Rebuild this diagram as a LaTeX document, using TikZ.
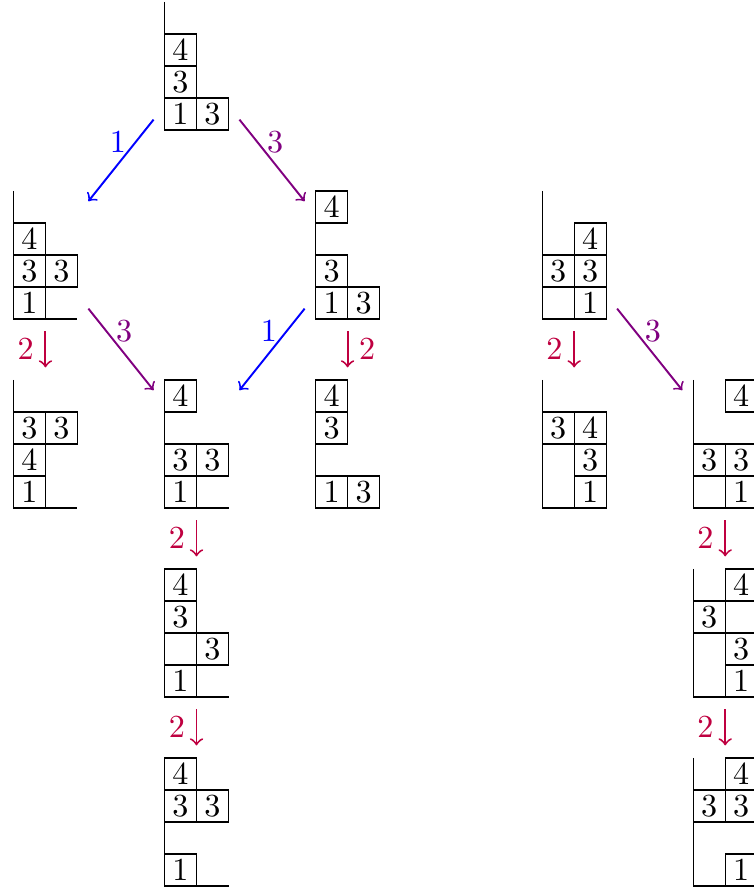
\documentclass[tikz,border=0pt]{standalone}
\usepackage{amsmath,amssymb}
\usepackage{tikz}
\usetikzlibrary{arrows,positioning}

\begin{document}
\begin{tikzpicture}[x=0.35cm,y=0.35cm,auto,node distance=2.067cm and 1.652cm,on grid,
  tab/.style={inner sep=0pt,outer sep=0pt,minimum width=0.7cm+6.8pt,minimum height=1.4cm+7.8pt},
  cell/.style={draw,inner sep=0pt,minimum size=0.35cm},
  lbl/.style={pos=0.41,inner sep=0pt}]
 \useasboundingbox (0,0) rectangle (23.53,27.84);

 \node[tab] (A) at (6.14,25.78) {};
 \node[tab] (B) [below left=of A]       {};
 \node[tab] (C) [below right=of A]      {};
 \node[tab] (D) [below=of B]            {};
 \node[tab] (E) [below right=of B]      {};
 \node[tab] (F) [below=of C]            {};
 \node[tab] (G) [below=of E]            {};
 \node[tab] (H) [below=of G]            {};
 \node[tab] (I) [right=2.478cm of C]    {};
 \node[tab] (J) [below=of I]            {};
 \node[tab] (K) [below right=of I]      {};
 \node[tab] (L) [below=of K]            {};
 \node[tab] (M) [below=of L]            {};

 % column/row/entry, row 1 at the bottom
 \foreach \n/\entries in {A/{1/1/1,1/2/3,1/3/4,2/1/3}, B/{1/1/1,1/2/3,1/3/4,2/2/3},
     C/{1/1/1,1/2/3,1/4/4,2/1/3}, D/{1/1/1,1/2/4,1/3/3,2/3/3},
     E/{1/1/1,1/2/3,1/4/4,2/2/3}, F/{1/1/1,1/3/3,1/4/4,2/1/3},
     G/{1/1/1,1/3/3,1/4/4,2/2/3}, H/{1/1/1,1/3/3,1/4/4,2/3/3},
     I/{1/2/3,2/1/1,2/2/3,2/3/4}, J/{1/3/3,2/1/1,2/2/3,2/3/4},
     K/{1/2/3,2/1/1,2/2/3,2/4/4}, L/{1/3/3,2/1/1,2/2/3,2/4/4},
     M/{1/3/3,2/1/1,2/3/3,2/4/4}} {
   \draw ([shift={(-1,2)}]\n.center) -- ++(0,-4) -- ++(2,0);
   \foreach \c/\r/\v in \entries
     \node[cell] at ([shift={(\c-1.5,\r-2.5)}]\n.center) {$\v$};
 }

 \path[->,semithick]
   (A) edge[blue]   node[swap,lbl] {$1$} (B)
       edge[violet] node[lbl]      {$3$} (C)
   (B) edge[purple] node[swap]     {$2$} (D)
       edge[violet] node[lbl]      {$3$} (E)
   (C) edge[blue]   node[swap,lbl] {$1$} (E)
       edge[purple] node           {$2$} (F)
   (E) edge[purple] node[swap]     {$2$} (G)
   (G) edge[purple] node[swap]     {$2$} (H)
   (I) edge[purple] node[swap]     {$2$} (J)
       edge[violet] node[lbl]      {$3$} (K)
   (K) edge[purple] node[swap]     {$2$} (L)
   (L) edge[purple] node[swap]     {$2$} (M);
\end{tikzpicture}
\end{document}
